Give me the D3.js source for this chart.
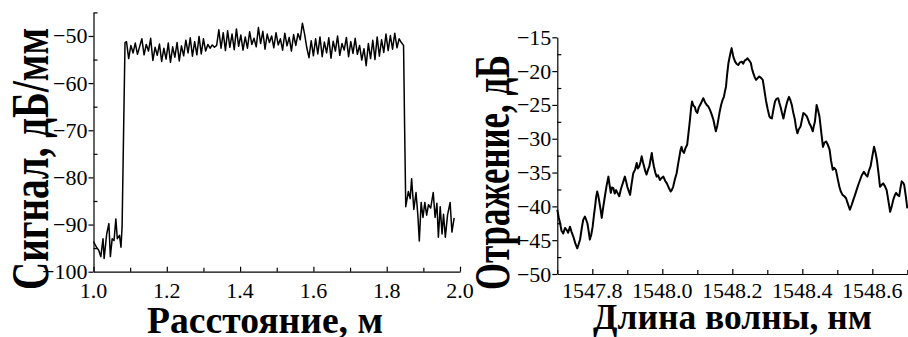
<!DOCTYPE html>
<html>
<head>
<meta charset="utf-8">
<script src="https://cdn.jsdelivr.net/npm/d3@7"></script>
</head>
<body style="margin:0">
<svg id="chart" width="908" height="337"></svg>
<script>
// left panel: backscatter signal vs distance, [m, dB/mm]
const signalPoints = [
  [1.000,-93.6],[1.008,-94.8],[1.014,-95.4],[1.020,-96.8],[1.026,-93.0],[1.029,-97.2],[1.036,-92.0],
  [1.042,-89.8],[1.046,-96.8],[1.051,-93.0],[1.056,-93.4],[1.061,-88.8],[1.065,-93.0],[1.071,-92.3],
  [1.075,-94.8],[1.078,-90.5],[1.082,-70.9],[1.086,-51.4],
  [1.090,-51.2],[1.096,-54.8],[1.102,-52.0],[1.108,-53.6],[1.114,-51.5],[1.120,-53.9],[1.126,-52.2],
  [1.132,-50.6],[1.138,-54.0],[1.144,-51.8],[1.150,-53.2],[1.156,-50.5],[1.162,-55.2],[1.168,-52.4],
  [1.174,-54.1],[1.180,-51.7],[1.186,-55.4],[1.192,-52.6],[1.198,-54.9],[1.204,-51.5],[1.210,-55.6],
  [1.216,-52.3],[1.222,-54.5],[1.228,-51.4],[1.234,-55.3],[1.240,-52.1],[1.246,-54.2],[1.252,-50.9],
  [1.258,-53.6],[1.264,-50.4],[1.270,-54.3],[1.276,-51.2],[1.282,-54.0],[1.288,-50.1],[1.294,-53.8],
  [1.300,-50.6],[1.306,-53.2],[1.312,-51.8],[1.318,-52.6],[1.324,-51.9],[1.330,-52.4],[1.336,-52.0],
  [1.342,-48.7],[1.348,-52.6],[1.354,-49.3],[1.360,-53.1],[1.366,-48.9],[1.372,-52.4],[1.378,-49.6],
  [1.384,-52.9],[1.390,-48.5],[1.396,-52.2],[1.402,-49.8],[1.408,-53.0],[1.414,-50.2],[1.420,-52.6],
  [1.426,-49.1],[1.432,-51.8],[1.438,-50.5],[1.444,-52.3],[1.450,-48.2],[1.456,-51.6],[1.462,-49.0],
  [1.468,-52.8],[1.474,-49.6],[1.480,-51.4],[1.486,-50.0],[1.492,-52.5],[1.498,-49.3],[1.504,-51.9],
  [1.510,-50.6],[1.516,-53.0],[1.522,-49.4],[1.528,-52.1],[1.534,-50.3],[1.540,-53.2],[1.546,-49.7],
  [1.552,-52.0],[1.558,-49.5],[1.564,-50.8],[1.570,-47.3],[1.576,-49.6],[1.582,-52.5],[1.588,-54.6],
  [1.594,-51.0],[1.600,-54.2],[1.606,-50.6],[1.612,-53.8],[1.618,-50.2],[1.624,-54.4],[1.630,-51.3],
  [1.636,-53.6],[1.642,-50.4],[1.648,-54.7],[1.654,-51.1],[1.660,-53.2],[1.666,-50.0],[1.672,-54.1],
  [1.678,-51.6],[1.684,-53.0],[1.690,-50.3],[1.696,-54.4],[1.702,-51.2],[1.708,-53.7],[1.714,-50.5],
  [1.720,-53.9],[1.726,-52.0],[1.732,-55.1],[1.738,-52.7],[1.744,-56.3],[1.750,-51.6],[1.756,-54.8],
  [1.762,-50.9],[1.768,-55.0],[1.774,-50.2],[1.780,-54.3],[1.786,-50.8],[1.792,-53.5],[1.798,-49.6],
  [1.804,-53.1],[1.810,-49.9],[1.816,-52.8],[1.822,-49.4],[1.828,-52.5],[1.834,-50.6],[1.840,-51.4],
  [1.846,-52.0],[1.849,-70.0],[1.852,-86.2],
  [1.859,-83.0],[1.864,-84.5],[1.868,-80.3],[1.874,-86.8],[1.880,-83.2],[1.885,-88.0],[1.889,-93.5],
  [1.894,-85.3],[1.899,-88.5],[1.904,-85.3],[1.909,-88.0],[1.914,-85.8],[1.920,-86.5],[1.927,-83.2],
  [1.932,-88.5],[1.937,-85.5],[1.941,-92.7],[1.946,-86.2],[1.951,-92.0],[1.955,-87.8],[1.960,-92.7],
  [1.966,-88.0],[1.973,-85.3],[1.978,-91.6],[1.984,-88.6]
];

// right panel: reflection spectrum, [nm, dB]
const reflectionPoints = [
  [1547.700,-40.5],[1547.704,-41.6],[1547.708,-42.5],[1547.712,-43.6],[1547.717,-44.0],[1547.722,-43.2],
  [1547.727,-43.5],[1547.731,-43.9],[1547.736,-43.0],[1547.741,-43.8],[1547.746,-44.5],[1547.751,-45.4],
  [1547.757,-46.2],[1547.761,-45.6],[1547.765,-44.9],[1547.770,-43.2],[1547.774,-42.0],[1547.779,-41.5],
  [1547.786,-42.5],[1547.790,-43.8],[1547.793,-44.9],[1547.797,-44.2],[1547.801,-43.0],[1547.805,-41.2],
  [1547.808,-40.0],[1547.811,-38.6],[1547.814,-37.8],[1547.817,-38.4],[1547.820,-39.3],[1547.824,-40.6],
  [1547.827,-41.7],[1547.831,-40.2],[1547.836,-38.5],[1547.841,-36.9],[1547.846,-35.6],[1547.849,-36.7],
  [1547.853,-38.0],[1547.856,-37.2],[1547.860,-37.3],[1547.864,-38.1],[1547.868,-37.6],[1547.872,-38.0],
  [1547.877,-38.5],[1547.882,-37.4],[1547.887,-36.6],[1547.893,-35.6],[1547.897,-36.4],[1547.900,-37.1],
  [1547.904,-37.7],[1547.908,-38.3],[1547.912,-36.8],[1547.917,-35.1],[1547.922,-34.6],[1547.927,-33.6],
  [1547.930,-34.4],[1547.934,-34.1],[1547.938,-33.4],[1547.941,-32.6],[1547.945,-33.5],[1547.948,-34.1],
  [1547.952,-34.9],[1547.955,-35.3],[1547.959,-34.6],[1547.963,-34.1],[1547.966,-33.2],[1547.970,-32.1],
  [1547.973,-33.3],[1547.976,-34.1],[1547.980,-35.0],[1547.984,-35.6],[1547.988,-35.4],[1547.993,-36.1],
  [1547.998,-35.8],[1548.003,-35.6],[1548.008,-36.2],[1548.013,-36.6],[1548.018,-37.2],[1548.024,-37.8],
  [1548.027,-37.6],[1548.031,-37.1],[1548.036,-36.0],[1548.041,-35.1],[1548.045,-33.8],[1548.049,-32.6],
  [1548.052,-31.7],[1548.055,-31.2],[1548.058,-31.8],[1548.062,-32.1],[1548.066,-31.4],[1548.071,-30.9],
  [1548.075,-29.1],[1548.079,-27.2],[1548.082,-25.6],[1548.085,-24.5],[1548.089,-25.1],[1548.093,-25.3],
  [1548.096,-25.9],[1548.100,-26.2],[1548.104,-25.4],[1548.108,-25.0],[1548.112,-24.6],[1548.117,-24.0],
  [1548.122,-24.6],[1548.127,-25.0],[1548.131,-25.2],[1548.136,-25.7],[1548.141,-26.4],[1548.146,-27.2],
  [1548.150,-28.2],[1548.153,-28.9],[1548.157,-28.1],[1548.160,-27.2],[1548.164,-26.0],[1548.168,-25.0],
  [1548.172,-24.3],[1548.176,-23.8],[1548.179,-23.0],[1548.182,-22.3],[1548.185,-20.6],[1548.189,-18.8],
  [1548.194,-17.5],[1548.198,-16.6],[1548.203,-17.9],[1548.208,-18.6],[1548.212,-18.9],[1548.217,-19.1],
  [1548.222,-18.7],[1548.227,-18.6],[1548.231,-18.9],[1548.236,-18.4],[1548.240,-18.3],[1548.243,-18.1],
  [1548.248,-18.4],[1548.253,-18.8],[1548.256,-19.6],[1548.260,-20.3],[1548.264,-20.9],[1548.268,-21.3],
  [1548.273,-21.0],[1548.277,-20.8],[1548.282,-21.0],[1548.287,-21.3],[1548.291,-22.6],[1548.296,-24.3],
  [1548.301,-25.6],[1548.306,-26.7],[1548.309,-26.9],[1548.313,-27.0],[1548.317,-25.8],[1548.322,-24.5],
  [1548.326,-24.1],[1548.331,-24.0],[1548.334,-24.6],[1548.338,-25.3],[1548.342,-26.2],[1548.346,-27.0],
  [1548.350,-26.0],[1548.353,-25.3],[1548.357,-24.5],[1548.362,-23.8],[1548.366,-24.3],[1548.370,-25.0],
  [1548.374,-26.1],[1548.379,-27.2],[1548.382,-28.3],[1548.386,-29.2],[1548.390,-28.6],[1548.395,-28.2],
  [1548.399,-27.2],[1548.403,-26.2],[1548.408,-26.4],[1548.413,-26.7],[1548.416,-27.1],[1548.420,-27.7],
  [1548.425,-28.2],[1548.430,-28.9],[1548.433,-28.1],[1548.436,-27.5],[1548.439,-26.0],[1548.441,-25.0],
  [1548.445,-25.8],[1548.449,-26.7],[1548.454,-29.0],[1548.459,-31.2],[1548.463,-30.6],[1548.468,-30.4],
  [1548.473,-30.9],[1548.478,-31.6],[1548.482,-33.2],[1548.487,-34.6],[1548.491,-34.3],[1548.496,-34.6],
  [1548.501,-35.9],[1548.506,-37.1],[1548.510,-37.8],[1548.515,-38.3],[1548.520,-38.5],[1548.525,-38.8],
  [1548.530,-39.6],[1548.536,-40.5],[1548.541,-39.8],[1548.546,-39.0],[1548.550,-38.4],[1548.555,-37.6],
  [1548.560,-36.8],[1548.565,-36.1],[1548.570,-35.4],[1548.576,-34.9],[1548.581,-35.3],[1548.586,-35.6],
  [1548.590,-34.8],[1548.595,-34.1],[1548.600,-32.6],[1548.605,-31.2],[1548.609,-32.0],[1548.613,-33.1],
  [1548.618,-35.2],[1548.622,-37.1],[1548.627,-36.8],[1548.631,-36.6],[1548.636,-37.0],[1548.641,-37.6],
  [1548.646,-39.2],[1548.651,-40.8],[1548.656,-39.9],[1548.660,-39.0],[1548.664,-38.4],[1548.668,-38.0],
  [1548.672,-38.3],[1548.677,-38.5],[1548.680,-37.4],[1548.684,-36.3],[1548.688,-36.5],[1548.691,-36.8],
  [1548.696,-38.6],[1548.700,-40.3]
];

const distanceTicks = [1.0, 1.2, 1.4, 1.6, 1.8, 2.0];
const distanceMinor = [1.1, 1.3, 1.5, 1.7, 1.9];
const signalTicks = [-100, -90, -80, -70, -60, -50];
const signalMinor = [-95, -85, -75, -65, -55, -45];
const wavelengthTicks = [1547.8, 1548.0, 1548.2, 1548.4, 1548.6];
const wavelengthMinor = [1547.7, 1547.9, 1548.1, 1548.3, 1548.5, 1548.7];
const reflectionTicks = [-50, -45, -40, -35, -30, -25, -20, -15];
const reflectionMinor = [-47.5, -42.5, -37.5, -32.5, -27.5, -22.5, -17.5];

const svg = d3.select("#chart");
const fontName = '"Liberation Serif"';

// every text goes straight onto the svg root
function label(txt, size) {
  return svg.append("text")
    .style("font-family", fontName)
    .attr("font-size", size)
    .attr("fill", "#000")
    .text(txt);
}

function lines(sel) {
  sel.selectAll("text").remove();
  sel.attr("font-family", null).attr("font-size", null);
  sel.selectAll("path, line").attr("stroke", "#000").attr("stroke-width", 1.2);
}

function drawPanel(opts) {
  const x = d3.scaleLinear().domain(opts.xDomain).range(opts.xRange);
  const y = d3.scaleLinear().domain(opts.yDomain).range(opts.yRange);
  const x0 = opts.xRange[0], yBase = opts.yRange[0];

  // axes: ticks only, labels drawn separately below
  svg.append("g").attr("transform", `translate(0,${yBase})`)
    .call(d3.axisBottom(x).tickValues(opts.xTicks).tickSize(-5).tickSizeOuter(0))
    .call(lines);
  svg.append("g").attr("transform", `translate(0,${yBase})`)
    .call(d3.axisBottom(x).tickValues(opts.xMinor).tickSize(-4).tickSizeOuter(0))
    .call(lines)
    .select(".domain").remove();
  svg.append("g").attr("transform", `translate(${x0},0)`)
    .call(d3.axisLeft(y).tickValues(opts.yTicks).tickSize(5).tickSizeOuter(0))
    .call(lines);
  svg.append("g").attr("transform", `translate(${x0},0)`)
    .call(d3.axisLeft(y).tickValues(opts.yMinor).tickSize(-4).tickSizeOuter(0))
    .call(lines)
    .select(".domain").remove();

  opts.xTicks.forEach(t => {
    label(d3.format(".1f")(t), 22)
      .attr("x", x(t)).attr("y", opts.xLabelY)
      .attr("text-anchor", "middle");
  });
  opts.yTicks.forEach(t => {
    label(d3.format("d")(t), 22)
      .attr("x", x0 - 6).attr("y", y(t) + 7.5)
      .attr("text-anchor", "end");
  });

  svg.append("path")
    .datum(opts.data)
    .attr("fill", "none")
    .attr("stroke", "#000")
    .attr("stroke-linejoin", "round")
    .attr("stroke-width", opts.lineWidth)
    .attr("d", d3.line().x(d => x(d[0])).y(d => y(d[1])));

  const t1 = opts.xTitle;
  label(t1.text, t1.size)
    .attr("x", t1.x).attr("y", t1.y)
    .attr("text-anchor", "middle")
    .attr("font-weight", "bold")
    .attr("textLength", t1.len)
    .attr("lengthAdjust", "spacingAndGlyphs");

  const t2 = opts.yTitle;
  label(t2.text, t2.size)
    .attr("transform", `translate(${t2.x},${t2.y}) rotate(-90)`)
    .attr("text-anchor", "middle")
    .attr("font-weight", "bold")
    .attr("textLength", t2.len)
    .attr("lengthAdjust", "spacingAndGlyphs");
}

drawPanel({
  data: signalPoints,
  xDomain: [1.0, 2.0], xRange: [93.5, 460],
  yDomain: [-100, -45], yRange: [271.7, 12.4],
  xTicks: distanceTicks, xMinor: distanceMinor,
  yTicks: signalTicks, yMinor: signalMinor,
  xLabelY: 298, lineWidth: 1.5,
  xTitle: { text: "Расстояние, м", x: 265, y: 333, size: 38, len: 236 },
  yTitle: { text: "Сигнал, дБ/мм", x: 48, y: 159, size: 52, len: 262 }
});

drawPanel({
  data: reflectionPoints,
  xDomain: [1547.7, 1548.7], xRange: [557.3, 907.3],
  yDomain: [-50, -15], yRange: [274, 37.3],
  xTicks: wavelengthTicks, xMinor: wavelengthMinor,
  yTicks: reflectionTicks, yMinor: reflectionMinor,
  xLabelY: 298, lineWidth: 2,
  xTitle: { text: "Длина волны, нм", x: 732.5, y: 329, size: 36, len: 279 },
  yTitle: { text: "Отражение, дБ", x: 509, y: 172.5, size: 50, len: 235 }
});
</script>
</body>
</html>
